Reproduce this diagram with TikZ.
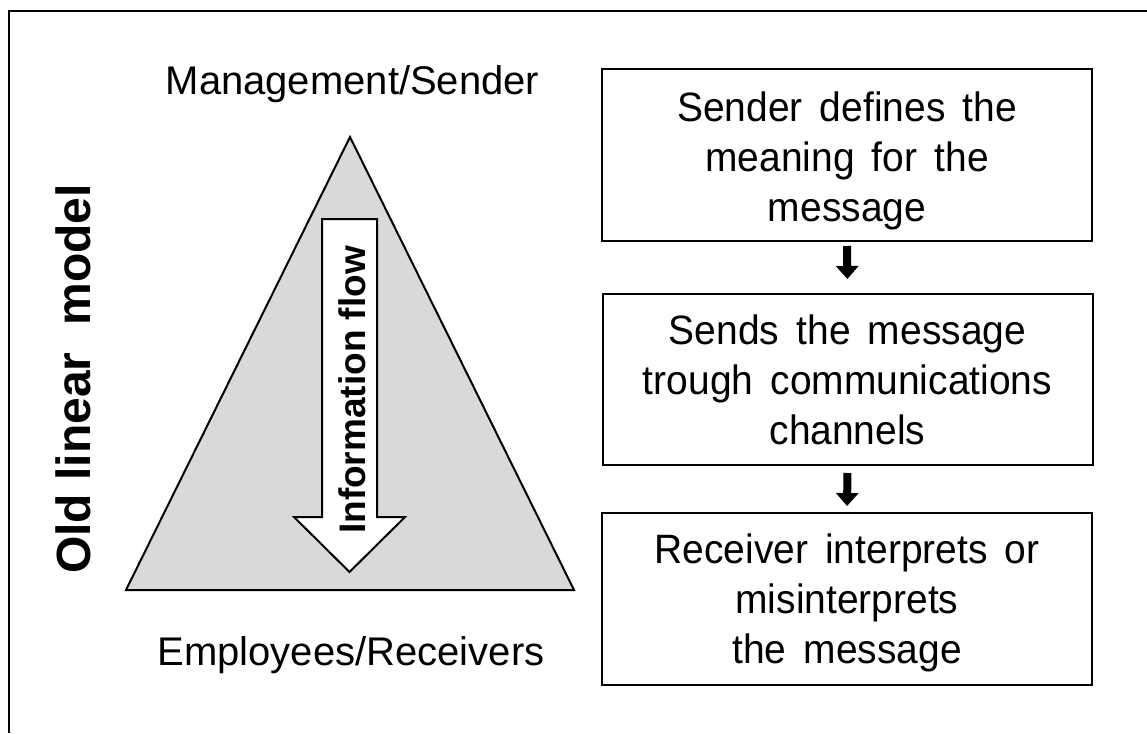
\documentclass[tikz,border=0pt]{standalone}
\usepackage{fontspec}
\setmainfont{Liberation Sans}
\newfontfamily\boxface[FakeStretch=0.95]{Liberation Sans}
\usetikzlibrary{arrows.meta}
\definecolor{triGray}{HTML}{D9D9D9}
\newcommand{\mybxfont}{\boxface\fontsize{41}{50}\selectfont}
\newcommand{\wsp}{\hspace{0.42em}}
\begin{document}
\begin{tikzpicture}[x=1pt,y=-1pt,
  frameline/.style={line width=2.5pt},
  tri/.style={draw=black, line width=2pt, fill=triGray, line join=miter},
  bigarrow/.style={draw=black, line width=2pt, fill=white, line join=miter},
  box/.style={draw=black, line width=2pt, minimum width=490pt, minimum height=172pt, inner sep=0pt},
  boxtext/.style={align=center, inner sep=0pt, font=\mybxfont},
  plainlabel/.style={inner sep=0pt, anchor=base, font=\fontsize{40}{48}\selectfont},
  vlabel/.style={inner sep=0pt, anchor=base, rotate=90, font=\bfseries\fontsize{48}{58}\selectfont},
  flowlabel/.style={inner sep=0pt, anchor=base, rotate=90, font=\bfseries\fontsize{37}{44}\selectfont},
  steparrow/.style={line width=8pt, -{Triangle[width=22pt,length=13pt]}}
]
\useasboundingbox (0,0) rectangle (1147,733);
% outer frame (left and top edges)
\draw[frameline] (9,733) -- (9,11) -- (1147,11);

% triangle
\draw[tri] (350,137) -- (574,590) -- (126,590) -- cycle;
% information flow arrow
\draw[bigarrow] (322,219) -- (377,219) -- (377,517) -- (405,517) -- (349.5,572)
  -- (294,517) -- (322,517) -- cycle;
\node[flowlabel] (flow) at (365,390) {Information flow};

% side labels
\node[vlabel] (oldlbl) at (90,379) {Old linear\ \ model};
\node[plainlabel] (mgmt) at (352.5,95) {Management/Sender};
\node[plainlabel] (empl) at (351,665) {Employees/Receivers};

% boxes
\node[box] (b1) at (847,155) {};
\node[box, minimum height=171pt] (b2) at (847.5,379.5) {};
\node[box] (b3) at (847,599) {};
\node[boxtext, yshift=-6pt] (t1) at (b1.center) {Sender\wsp defines\wsp the\\meaning\wsp for\wsp the\\message};
\node[boxtext, yshift=0pt] (t2) at (b2.center) {Sends\wsp the\wsp message\\trough\wsp communications\\channels};
\node[boxtext, yshift=-3.5pt] (t3) at (b3.center) {Receiver\wsp interprets\wsp or\\misinterprets\\the\wsp message};

% step arrows
\draw[steparrow, shorten <=4pt, shorten >=14pt] (b1.south) -- (b2.north);
\draw[steparrow, shorten <=7pt, shorten >=6pt] (b2.south) -- (b3.north);
\end{tikzpicture}
\end{document}
